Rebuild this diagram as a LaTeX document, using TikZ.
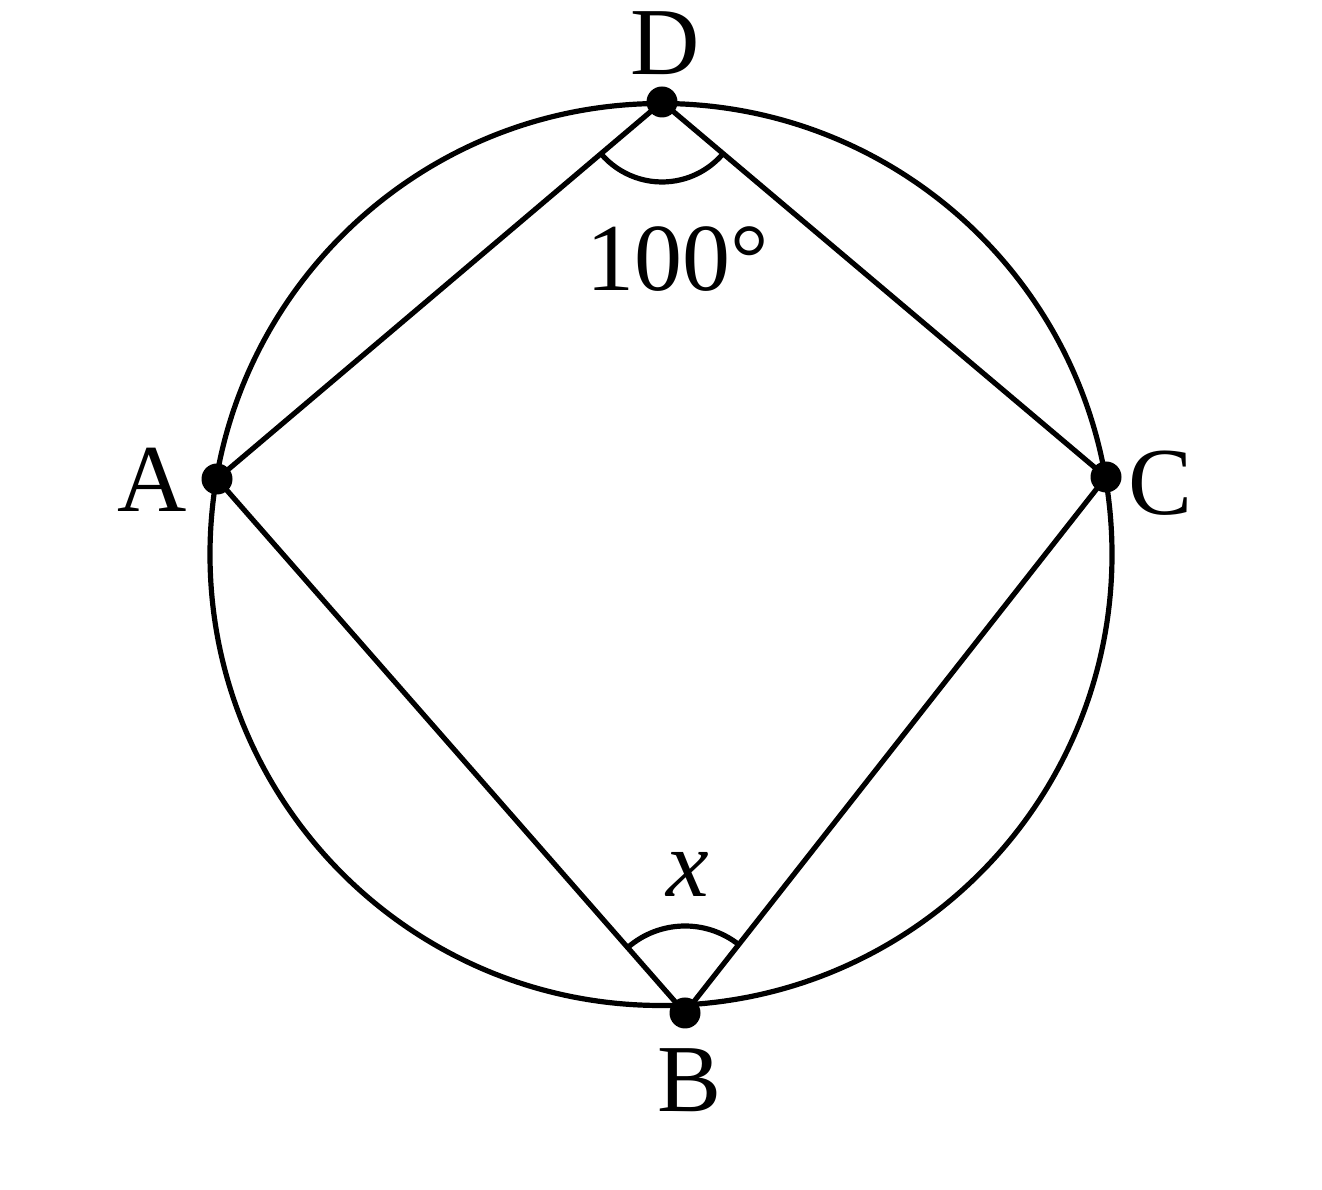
\documentclass[tikz,border=0pt]{standalone}
\usepackage{fontspec}
\setmainfont{Liberation Serif}
\usetikzlibrary{angles}
\begin{document}
\begin{tikzpicture}[x=1pt,y=1pt,
  edge/.style={line width=5.2pt,line join=round},
  dotpt/.style={circle,fill=black,inner sep=0pt,minimum size=31pt},
  lbl/.style={font=\fontsize{96}{100}\selectfont,inner sep=0pt}]
\useasboundingbox (0,0) rectangle (1322,1190);
\coordinate (O) at (661,635.5);
\coordinate (D) at (662,1088);
\coordinate (A) at (217,711);
\coordinate (C) at (1106,713);
\coordinate (B) at (685,177);
\draw[edge] (O) circle (451);
\draw[edge] (A) -- (D) -- (C) -- (B) -- cycle;
\pic[draw,edge,angle radius=80pt] {angle=A--D--C};
\pic[draw,edge,angle radius=87pt] {angle=C--B--A};
\node[dotpt] (dD) at (D) {};
\node[dotpt] (dA) at (A) {};
\node[dotpt] (dC) at (C) {};
\node[dotpt] (dB) at (B) {};
\node[lbl] (lD) at (665,1147) {D};
\node[lbl] (lA) at (152,710) {A};
\node[lbl] (lC) at (1161,707) {C};
\node[lbl] (lB) at (690,110) {B};
\node[lbl] (ang) at (678,931) {100°};
\node[lbl] (lx) at (688,316) {\itshape x};
\end{tikzpicture}
\end{document}
